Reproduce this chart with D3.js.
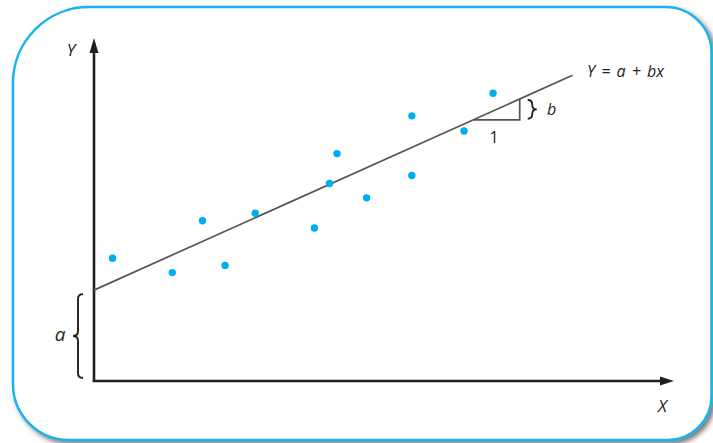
<!DOCTYPE html>
<html>
<head>
<meta charset="utf-8">
<script src="https://cdn.jsdelivr.net/npm/d3@7"></script>
<style>
  html, body { margin: 0; padding: 0; background: #ffffff; }
  svg { display: block; }
  text { font-family: "Open Sans", "Noto Sans", sans-serif; fill: #231f20; }
</style>
</head>
<body>
<svg id="chart" width="713" height="443"></svg>
<script>
// ---- data (in data units) ----
const pointsX = [0.32, 1.35, 1.87, 2.26, 2.78, 3.80, 4.06, 4.19, 4.70, 5.48, 5.48, 6.38, 6.88];
const pointsY = [3.58, 3.16, 4.67, 3.37, 4.89, 4.46, 5.76, 6.63, 5.34, 5.99, 7.73, 7.29, 8.39];
const interceptA = 2.65;     // a
const slopeB = 0.759;        // b
const lineXEnd = 8.25;
const triangleX0 = 6.54;
const triangleRun = 0.80;
const xDomain = [0, 10];
const yDomain = [0, 10];
const labels = { y: "Y", x: "X", eq: "Y = a + bx", a: "a", b: "b", one: "1" };

// ---- layout ----
const svg = d3.select("#chart");
const origin = { x: 94, y: 381 };
const x = d3.scaleLinear().domain(xDomain).range([origin.x, 674]);
const y = d3.scaleLinear().domain(yDomain).range([origin.y, 38]);

// shadow filter
const defs = svg.append("defs");
const f = defs.append("filter").attr("id", "shadow").attr("x", "-5%").attr("y", "-5%").attr("width", "115%").attr("height", "115%");
f.append("feDropShadow").attr("dx", 3).attr("dy", 3).attr("stdDeviation", 2.4)
  .attr("flood-color", "#333").attr("flood-opacity", 0.65);

// frame with different corner radii
const L = 13, T = 7, R = 711.5, B = 440;
const rTL = 76, rTR = 46, rBR = 44, rBL = 56;
const framePath = [
  `M ${L} ${T + rTL}`,
  `A ${rTL} ${rTL} 0 0 1 ${L + rTL} ${T}`,
  `L ${R - rTR} ${T}`,
  `A ${rTR} ${rTR} 0 0 1 ${R} ${T + rTR}`,
  `L ${R} ${B - rBR}`,
  `A ${rBR} ${rBR} 0 0 1 ${R - rBR} ${B}`,
  `L ${L + rBL} ${B}`,
  `A ${rBL} ${rBL} 0 0 1 ${L} ${B - rBL}`,
  "Z"
].join(" ");
svg.append("path").attr("d", framePath)
  .attr("fill", "#ffffff").attr("stroke", "#1db3ea").attr("stroke-width", 2.5)
  .attr("filter", "url(#shadow)");

const axisColor = "#231f20";

// axes
svg.append("line").attr("x1", x(0)).attr("y1", y(0)).attr("x2", x(0)).attr("y2", y(yDomain[1]) + 12)
  .attr("stroke", axisColor).attr("stroke-width", 2.6);
svg.append("line").attr("x1", x(0) - 1.3).attr("y1", y(0)).attr("x2", x(xDomain[1]) - 12).attr("y2", y(0))
  .attr("stroke", axisColor).attr("stroke-width", 2.6);
// arrowheads
const yt = { x: x(0), y: y(yDomain[1]) };
svg.append("path").attr("d", `M ${yt.x} ${yt.y} L ${yt.x - 4.5} ${yt.y + 15} L ${yt.x + 4.5} ${yt.y + 15} Z`).attr("fill", axisColor);
const xt = { x: x(xDomain[1]), y: y(0) };
svg.append("path").attr("d", `M ${xt.x} ${xt.y} L ${xt.x - 14} ${xt.y - 4.5} L ${xt.x - 14} ${xt.y + 4.5} Z`).attr("fill", axisColor);

// regression line
svg.append("line")
  .attr("x1", x(0)).attr("y1", y(interceptA))
  .attr("x2", x(lineXEnd)).attr("y2", y(interceptA + slopeB * lineXEnd))
  .attr("stroke", "#555555").attr("stroke-width", 1.7);

// slope triangle
const tx0 = triangleX0, tx1 = triangleX0 + triangleRun;
const ty0 = interceptA + slopeB * tx0, ty1 = interceptA + slopeB * tx1;
svg.append("path")
  .attr("d", `M ${x(tx0)} ${y(ty0)} L ${x(tx1)} ${y(ty0)} L ${x(tx1)} ${y(ty1)}`)
  .attr("fill", "none").attr("stroke", "#555555").attr("stroke-width", 1.7);

// points
svg.append("g").selectAll("circle").data(pointsX.map((d, i) => [d, pointsY[i]]))
  .join("circle")
  .attr("cx", d => x(d[0])).attr("cy", d => y(d[1])).attr("r", 3.7)
  .attr("fill", "#00aeef");

// braces
function brace(xs, y0, y1, w, dir) {
  // dir = -1 tip points left, +1 tip points right
  const ym = (y0 + y1) / 2, s = xs + dir * w / 2, tip = xs + dir * w;
  const k = Math.min(w / 2, (y1 - y0) / 4);
  return `M ${xs} ${y0} Q ${s} ${y0} ${s} ${y0 + k} L ${s} ${ym - k} Q ${s} ${ym} ${tip} ${ym} ` +
         `Q ${s} ${ym} ${s} ${ym + k} L ${s} ${y1 - k} Q ${s} ${y1} ${xs} ${y1}`;
}
// brace for a
svg.append("path").attr("d", brace(83, y(interceptA) + 4, y(0) - 3, 10, -1))
  .attr("fill", "none").attr("stroke", axisColor).attr("stroke-width", 1.9);
// brace for b
svg.append("path").attr("d", brace(x(tx1) + 8, y(ty1) + 1, y(ty0) - 1, 9, 1))
  .attr("fill", "none").attr("stroke", axisColor).attr("stroke-width", 1.8);

// labels
svg.append("text").attr("x", 71).attr("y", 56).attr("text-anchor", "middle")
  .attr("font-size", 17).attr("font-style", "italic").text(labels.y);
svg.append("text").attr("x", 662.5).attr("y", 412).attr("text-anchor", "middle")
  .attr("font-size", 17).attr("font-style", "italic").text(labels.x);
svg.append("text").attr("x", 587).attr("y", 77)
  .attr("font-size", 16).attr("font-style", "italic").attr("xml:space", "preserve")
  .attr("word-spacing", 2).text(labels.eq);
svg.append("text").attr("x", 60).attr("y", 341).attr("text-anchor", "middle")
  .attr("font-size", 19).attr("font-style", "italic").text(labels.a);
svg.append("text").attr("x", 551.5).attr("y", 115).attr("text-anchor", "middle")
  .attr("font-size", 16).attr("font-style", "italic").text(labels.b);
svg.append("text").attr("x", 494).attr("y", 143).attr("text-anchor", "middle")
  .attr("font-size", 16).text(labels.one);
</script>
</body>
</html>
